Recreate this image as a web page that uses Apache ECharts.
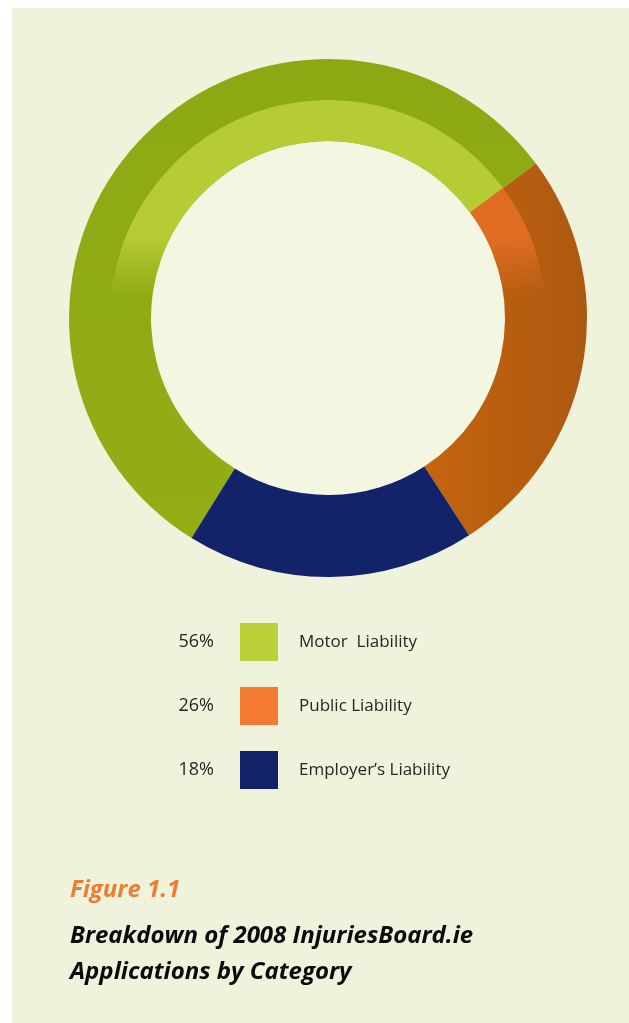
<!DOCTYPE html>
<html>
<head>
<meta charset="utf-8">
<script src="https://cdn.jsdelivr.net/npm/echarts@6/dist/echarts.min.js"></script>
<style>
html,body{margin:0;padding:0;background:#fff;}
#c{width:629px;height:1023px;}
</style>
</head>
<body>
<div id="c"></div>
<script>
// Data
const categories = ['Motor  Liability', 'Public Liability', "Employer\u2019s Liability"];
const shares = [56, 26, 18];
const ringColors = ['#8ea914', '#bd600f', '#12236a'];
const legendColors = ['#bdd03a', '#f47a31', '#12236a'];
const bandColors = ['#b7cb34', '#e06c24', 'rgba(0,0,0,0)'];
const figureLabel = 'Figure 1.1';
const captionLines = ['Breakdown of 2008 InjuriesBoard.ie', 'Applications by Category'];

const chart = echarts.init(document.getElementById('c'), null, {renderer: 'canvas'});

const CX = 328, CY = 318;
const FONT = '"Open Sans", "Noto Sans", sans-serif';

function fade(col) {
  if (col.indexOf('rgba') === 0) return col;
  return {
    type: 'linear', global: true, x: 0, y: 100, x2: 0, y2: 295,
    colorStops: [
      {offset: 0, color: col},
      {offset: 0.7, color: col},
      {offset: 1, color: echarts.color.modifyAlpha(col, 0)}
    ]
  };
}

const legendStart = 623, legendStep = 64, swatch = 38;

const pctGraphics = shares.map((v, i) => ({
  type: 'text',
  x: 214,
  y: legendStart + i * legendStep + swatch / 2,
  style: {text: v + '%', fill: '#262626', fontSize: 18, fontFamily: FONT, align: 'right', verticalAlign: 'middle'}
}));

chart.setOption({
  animation: false,
  backgroundColor: '#ffffff',
  title: {
    left: 70, top: 878, padding: 0,
    text: figureLabel,
    textStyle: {color: '#f07c31', fontSize: 24, fontStyle: 'italic', fontWeight: 'bold', fontFamily: FONT},
    subtext: captionLines.join('\n'),
    itemGap: 16,
    subtextStyle: {color: '#0b0b0b', fontSize: 24, fontStyle: 'italic', fontWeight: 'bold', fontFamily: FONT, lineHeight: 36}
  },
  legend: {
    orient: 'vertical',
    left: 240, top: legendStart, padding: 0,
    itemWidth: swatch, itemHeight: swatch,
    itemGap: legendStep - swatch,
    icon: 'rect',
    selectedMode: false,
    textStyle: {color: '#262626', fontSize: 17, fontFamily: FONT, padding: [0, 0, 0, 16]},
    data: categories.map((c, i) => ({name: c, itemStyle: {color: legendColors[i]}}))
  },
  graphic: [
    {type: 'rect', left: 12, top: 8, z: -10, shape: {width: 617, height: 1015}, style: {fill: '#eff3dc'}},
    {type: 'circle', shape: {cx: CX, cy: CY, r: 177}, z: -5, style: {fill: '#f3f6e0'}}
  ].concat(pctGraphics),
  series: [
    {
      type: 'pie',
      center: [CX, CY],
      radius: [177, 259],
      startAngle: 238.2,
      clockwise: true,
      label: {show: false},
      labelLine: {show: false},
      silent: true,
      itemStyle: {borderWidth: 0},
      data: categories.map((c, i) => ({
        name: c, value: shares[i],
        itemStyle: {
          color: i === 1 ? {
            type: 'linear', global: true, x: 420, y: 0, x2: 587, y2: 0,
            colorStops: [{offset: 0, color: '#c6640e'}, {offset: 1, color: '#ac5911'}]
          } : (i === 0 ? {
            type: 'linear', global: true, x: 0, y: 60, x2: 0, y2: 530,
            colorStops: [{offset: 0, color: '#8ca914'}, {offset: 1, color: '#93ad15'}]
          } : ringColors[i])
        }
      }))
    },
    {
      type: 'pie',
      center: [CX, CY],
      radius: [177, 218],
      startAngle: 238.2,
      clockwise: true,
      label: {show: false},
      labelLine: {show: false},
      silent: true,
      legendHoverLink: false,
      itemStyle: {borderWidth: 0},
      emphasis: {disabled: true},
      data: categories.map((c, i) => ({
        name: c, value: shares[i],
        itemStyle: {color: fade(bandColors[i])}
      }))
    }
  ]
});
</script>
</body>
</html>
